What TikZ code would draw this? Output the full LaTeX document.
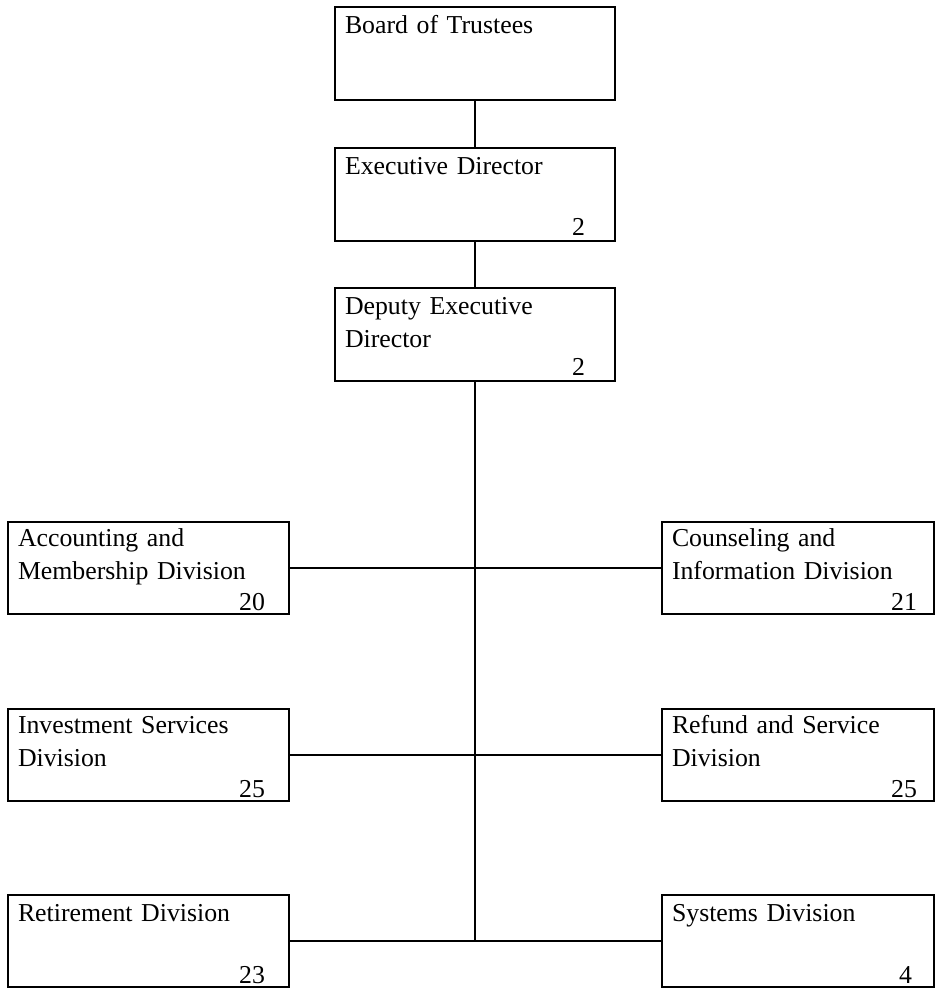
\documentclass[tikz,border=0pt]{standalone}
\usepackage{fontspec}
\setmainfont{Liberation Serif}
\usetikzlibrary{calc}
\begin{document}
\begin{tikzpicture}[x=1pt,y=-1pt,
  box/.style={draw=black,line width=1.4pt,fill=white,inner sep=0pt,outer sep=0pt,anchor=north west},
  wide/.style={box,minimum width=280pt,minimum height=93pt},
  lbl/.style={inner sep=0pt,outer sep=0pt,anchor=base west,text width=265pt,align=left,font=\fontsize{25.8}{33}\selectfont},
  num/.style={inner sep=0pt,outer sep=0pt,anchor=base east,font=\fontsize{25.8}{33}\selectfont},
  conn/.style={draw=black,line width=1.4pt}]
\useasboundingbox (0,0) rectangle (935,988);
% boxes
\node[wide] (board) at (335,7) {};
\node[wide] (exec) at (335,148) {};
\node[wide] (dep) at (335,288) {};
\node[box,minimum width=281pt,minimum height=92pt] (acc) at (8,522) {};
\node[box,minimum width=272pt,minimum height=92pt] (cou) at (662,522) {};
\node[box,minimum width=281pt,minimum height=92pt] (inv) at (8,709) {};
\node[box,minimum width=272pt,minimum height=92pt] (ref) at (662,709) {};
\node[box,minimum width=281pt,minimum height=92pt] (ret) at (8,895) {};
\node[box,minimum width=272pt,minimum height=92pt] (sys) at (662,895) {};
% connectors
\coordinate (j) at (475,941);
\draw[conn] (board.south) -- (exec.north);
\draw[conn] (exec.south) -- (dep.north);
\draw[conn] (dep.south) -- (j);
\draw[conn] (acc.east) -- (cou.west);
\draw[conn] (inv.east) -- (ref.west);
\draw[conn] (ret.east) -- (sys.west);
% texts
\node[lbl] (boardT) at ($(board.north west)+(10,26)$) {Board of Trustees};
\node[lbl] (execT) at ($(exec.north west)+(10,26)$) {Executive Director};
\node[lbl] (depT) at ($(dep.north west)+(10,26)$) {Deputy Executive\\Director};
\node[lbl] (accT) at ($(acc.north west)+(10,24)$) {Accounting and\\Membership Division};
\node[lbl] (couT) at ($(cou.north west)+(10,24)$) {Counseling and\\Information Division};
\node[lbl] (invT) at ($(inv.north west)+(10,24)$) {Investment Services\\Division};
\node[lbl] (refT) at ($(ref.north west)+(10,24)$) {Refund and Service\\Division};
\node[lbl] (retT) at ($(ret.north west)+(10,26)$) {Retirement Division};
\node[lbl] (sysT) at ($(sys.north west)+(10,26)$) {Systems Division};
% numbers
\node[num] (execN) at ($(exec.south west)+(250,-6)$) {2};
\node[num] (depN) at ($(dep.south west)+(250,-6)$) {2};
\node[num] (accN) at ($(acc.south west)+(257,-4)$) {20};
\node[num] (couN) at ($(cou.south west)+(255,-4)$) {21};
\node[num] (invN) at ($(inv.south west)+(257,-4)$) {25};
\node[num] (refN) at ($(ref.south west)+(255,-4)$) {25};
\node[num] (retN) at ($(ret.south west)+(257,-4)$) {23};
\node[num] (sysN) at ($(sys.south west)+(250,-4)$) {4};
\end{tikzpicture}
\end{document}
